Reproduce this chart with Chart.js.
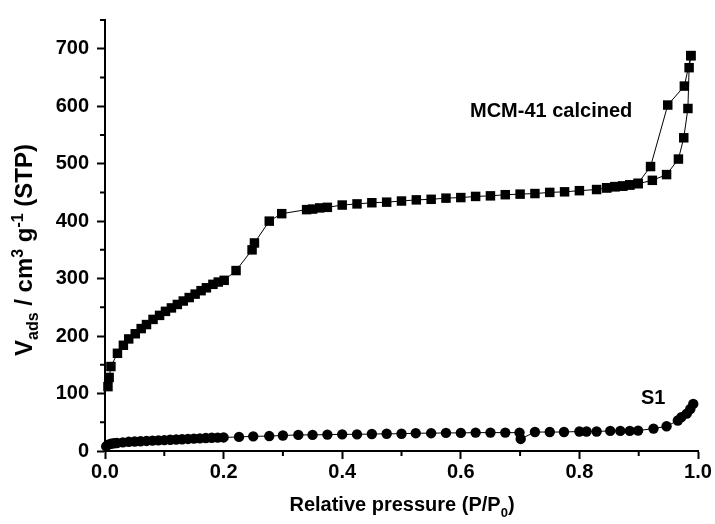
<!DOCTYPE html>
<html>
<head>
<meta charset="utf-8">
<script src="https://cdn.jsdelivr.net/npm/chart.js@4"></script>
<style>
  html, body { margin: 0; padding: 0; background: #fff; }
  #wrap { width: 715px; height: 524px; }
</style>
</head>
<body>
<div id="wrap"><canvas id="isoChart" width="715" height="524"></canvas></div>
<script>
// MCM-41 calcined, adsorption branch
const mcmAdsP = [0.005, 0.007, 0.010, 0.021, 0.031, 0.040, 0.051, 0.061, 0.070, 0.081, 0.092, 0.102, 0.112, 0.122, 0.132, 0.142, 0.152, 0.162, 0.171, 0.182, 0.191, 0.201, 0.221, 0.248, 0.252, 0.277, 0.298, 0.340, 0.350, 0.362, 0.375, 0.400, 0.425, 0.450, 0.475, 0.500, 0.525, 0.550, 0.575, 0.600, 0.625, 0.650, 0.675, 0.700, 0.725, 0.750, 0.775, 0.800, 0.829, 0.846, 0.860, 0.873, 0.885, 0.899, 0.923, 0.947, 0.967, 0.976, 0.983, 0.985, 0.988];
const mcmAdsV = [112, 128, 147, 170, 184, 195, 204, 213, 220, 229, 236, 243, 249, 255, 261, 267, 273, 279, 284, 290, 294, 297, 314, 350, 362, 400, 413, 420, 421, 423, 424, 428, 430, 432, 433, 435, 437, 438, 440, 441, 443, 444, 446, 447, 448, 450, 451, 453, 455, 458, 460, 461, 463, 465, 471, 481, 508, 545, 596, 667, 688];
// MCM-41 calcined, desorption branch
const mcmDesP = [0.988, 0.977, 0.949, 0.920, 0.899, 0.885, 0.873, 0.860, 0.846];
const mcmDesV = [688, 635, 602, 495, 466, 463, 461, 460, 458];
// S1
const s1P = [0.002, 0.005, 0.010, 0.015, 0.020, 0.030, 0.040, 0.050, 0.060, 0.070, 0.080, 0.090, 0.100, 0.110, 0.120, 0.130, 0.140, 0.150, 0.160, 0.170, 0.180, 0.190, 0.200, 0.226, 0.250, 0.277, 0.300, 0.326, 0.350, 0.375, 0.400, 0.425, 0.450, 0.475, 0.500, 0.524, 0.550, 0.575, 0.600, 0.625, 0.650, 0.675, 0.699, 0.701, 0.725, 0.750, 0.774, 0.800, 0.812, 0.829, 0.852, 0.869, 0.885, 0.899, 0.925, 0.947, 0.966, 0.972, 0.981, 0.987, 0.992];
const s1V = [8, 11, 12.5, 13.5, 14, 15, 16, 16.5, 17, 17.5, 18, 18.5, 19, 19.5, 20, 20.5, 21, 21.5, 22, 22.5, 23, 23.3, 23.6, 24.5, 25.5, 26, 27, 28, 28, 28.5, 29, 29, 29.5, 30, 30, 31, 31, 31.5, 31.5, 32, 32, 32, 32, 21, 33, 33, 33, 34, 34, 34, 35, 35, 35, 35.5, 39, 43, 53, 59, 65, 73, 82];

const xMajor = [0, 0.2, 0.4, 0.6, 0.8, 1.0];
const xMinor = [0.1, 0.3, 0.5, 0.7, 0.9];
const yMajor = [0, 100, 200, 300, 400, 500, 600, 700];
const yMinor = [50, 150, 250, 350, 450, 550, 650, 750];

const FONT = '"Liberation Sans", Arial, sans-serif';

function pts(xs, ys) { return xs.map((x, i) => ({ x, y: ys[i] })); }

function drawRich(ctx, parts, x, y) {
  // parts: [text, dy, size]; x is the centre
  let total = 0;
  parts.forEach(([t, dy, s]) => { ctx.font = `bold ${s}px ${FONT}`; total += ctx.measureText(t).width; });
  let cx = x - total / 2;
  parts.forEach(([t, dy, s]) => {
    ctx.font = `bold ${s}px ${FONT}`;
    ctx.fillText(t, cx, y + dy);
    cx += ctx.measureText(t).width;
  });
}

const extras = {
  id: 'extras',
  afterDraw(chart) {
    const { ctx, scales: { x, y }, chartArea } = chart;
    ctx.save();
    ctx.strokeStyle = '#000';
    ctx.lineWidth = 2;
    ctx.beginPath();
    yMinor.forEach(v => {
      const py = y.getPixelForValue(v);
      ctx.moveTo(chartArea.left - 5, py);
      ctx.lineTo(chartArea.left, py);
    });
    xMinor.forEach(v => {
      const px = x.getPixelForValue(v);
      ctx.moveTo(px, chartArea.bottom);
      ctx.lineTo(px, chartArea.bottom + 5);
    });
    ctx.stroke();

    ctx.fillStyle = '#000';
    ctx.textBaseline = 'alphabetic';
    ctx.textAlign = 'left';
    drawRich(ctx, [['Relative pressure (P/P', 0, 20], ['0', 6, 13], [')', 0, 20]], 402, 511);

    ctx.save();
    ctx.translate(32, 250);
    ctx.rotate(-Math.PI / 2);
    drawRich(ctx, [['V', 0, 24], ['ads', 6, 16], [' / cm', 0, 24], ['3', -9, 16], [' g', 0, 24], ['-1', -9, 16], [' (STP)', 0, 24]], 0, 0);
    ctx.restore();

    ctx.font = `bold 20px ${FONT}`;
    ctx.fillText('MCM-41 calcined', 470, 117);
    ctx.fillText('S1', 641, 404);
    ctx.restore();
  }
};

new Chart(document.getElementById('isoChart'), {
  type: 'scatter',
  data: {
    datasets: [
      { label: 'MCM-41 ads', data: pts(mcmAdsP, mcmAdsV), showLine: true, borderColor: '#000', backgroundColor: '#000', borderWidth: 1, pointStyle: 'rect', pointRadius: 6.7, pointBorderWidth: 0 },
      { label: 'MCM-41 des', data: pts(mcmDesP, mcmDesV), showLine: true, borderColor: '#000', backgroundColor: '#000', borderWidth: 1, pointStyle: 'rect', pointRadius: 6.7, pointBorderWidth: 0 },
      { label: 'S1', data: pts(s1P, s1V), showLine: true, borderColor: '#000', backgroundColor: '#000', borderWidth: 1, pointStyle: 'circle', pointRadius: 5.2, pointBorderWidth: 0 }
    ]
  },
  options: {
    responsive: false,
    animation: false,
    clip: false,
    layout: { padding: { left: 0, right: 17, top: 13, bottom: 0 } },
    plugins: { legend: { display: false }, tooltip: { enabled: false } },
    scales: {
      x: {
        type: 'linear', min: 0, max: 1,
        afterFit: s => { s.height = 73; },
        afterBuildTicks: s => { s.ticks = xMajor.map(v => ({ value: v })); },
        ticks: { color: '#000', padding: 1, font: { family: FONT, size: 20, weight: 'bold' }, callback: v => v.toFixed(1), maxRotation: 0 },
        grid: { drawOnChartArea: false, drawTicks: true, tickLength: 8, tickWidth: 2, tickColor: '#000' },
        border: { display: true, color: '#000', width: 2 }
      },
      y: {
        type: 'linear', min: 0, max: 750,
        afterFit: s => { s.width = 105; },
        afterBuildTicks: s => { s.ticks = yMajor.map(v => ({ value: v })); },
        ticks: { color: '#000', padding: 8, font: { family: FONT, size: 20, weight: 'bold' } },
        grid: { drawOnChartArea: false, drawTicks: true, tickLength: 8, tickWidth: 2, tickColor: '#000' },
        border: { display: true, color: '#000', width: 2 }
      }
    }
  },
  plugins: [extras]
});
</script>
</body>
</html>
